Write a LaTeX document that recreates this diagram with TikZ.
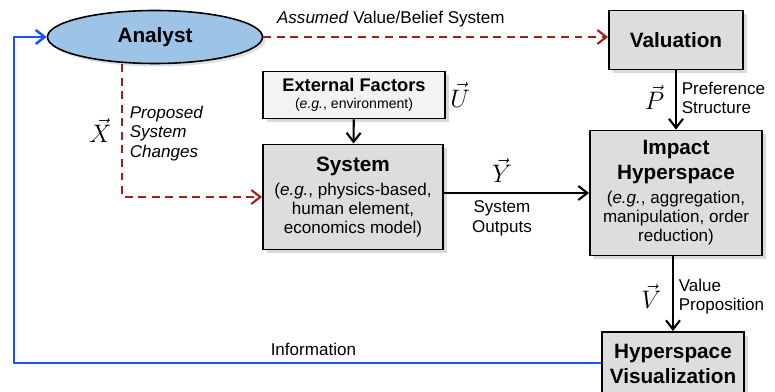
\documentclass[tikz,border=0pt]{standalone}
\usepackage{fontspec}
\setmainfont{Liberation Sans}
\usepackage{amsmath}
\usetikzlibrary{shapes.geometric, positioning, arrows.meta, shadows}
\definecolor{analystblue}{RGB}{157,195,230}
\definecolor{boxgray}{RGB}{221,221,221}
\definecolor{extgray}{RGB}{243,243,243}
\definecolor{assumered}{RGB}{163,33,20}
\definecolor{infoblue}{RGB}{28,82,255}
\newcommand\hd[1]{{\fontsize{11.8}{14}\selectfont\bfseries #1}}
\tikzset{block/.style={rectangle, draw=black, line width=1.1pt, fill=boxgray, align=center, inner sep=2pt,
                       font=\fontsize{9.7}{11}\selectfont,
                       drop shadow={shadow xshift=0.7mm, shadow yshift=-0.7mm, opacity=0.3}},
         flow/.style={-{Straight Barb[length=1.8mm,width=2.8mm]}, line width=1.2pt},
         assumed/.style={flow, draw=assumered, dash pattern=on 4.5pt off 3.2pt},
         lbl/.style={font=\fontsize{9.7}{11}\selectfont, inner sep=1pt},
         vecl/.style={font=\fontsize{15}{15}\selectfont, inner sep=1pt}}

\begin{document}
\begin{tikzpicture}[x=0.2mm, y=-0.2mm]
                 \useasboundingbox (0,0) rectangle (775,392);

                 % blocks
                 \node[ellipse, draw=black, line width=0.9pt, fill=analystblue, minimum width=43mm, minimum height=10.6mm,
                       drop shadow={shadow xshift=0.6mm, shadow yshift=-0.6mm, opacity=0.25}] (analyst) at (155,37) {\hd{Analyst}};
                 \node[block, minimum width=26.8mm, minimum height=11.8mm] (valuation) at (676,40) {\hd{Valuation}};
                 \node[block, fill=extgray, line width=0.9pt, minimum width=36.4mm, minimum height=9.4mm] (external) at (354,95)
                       {{\fontsize{10.4}{12}\selectfont\bfseries External Factors}\\[-1pt]{\fontsize{8}{9}\selectfont(\textit{e.g.}, environment)}};
                 \node[block, minimum width=36mm, minimum height=21mm] (system) at (353,197)
                       {\hd{System}\\[2.5pt](\textit{e.g.}, physics-based,\\human element,\\economics model)};
                 \node[block, minimum width=34.4mm, minimum height=25mm] (impact) at (676,193)
                       {\hd{Impact}\\[3pt]\hd{Hyperspace}\\[2.5pt](\textit{e.g.}, aggregation,\\manipulation, order\\reduction)};
                 \node[block, minimum width=28.4mm, minimum height=12.8mm] (hypviz) at (673,364)
                       {\hd{Hyperspace}\\[3pt]\hd{Visualization}};
                 \coordinate (infocorner) at (14,363);

                 % connectors
                 \draw[assumed] (analyst) -- (analyst -| valuation.west)
                       node[lbl, pos=0.37, above=1.5mm] {\textit{Assumed} Value/Belief System};
                 \draw[assumed] ([xshift=-6.6mm]analyst.south) |- (system.west)
                       node[lbl, pos=0.26, right=1mm, align=left] {\textit{Proposed}\\\textit{System}\\\textit{Changes}}
                       node[vecl, pos=0.25, left=1.5mm] {$\vec{X}$};
                 \draw[flow] (external) -- (system);
                 \node[vecl, right=0.5mm of external] (uvec) {$\vec{U}$};
                 \draw[flow] (impact.west -| system.east) -- (impact.west)
                       node[vecl, pos=0.4, above=1.5mm] {$\vec{Y}$}
                       node[lbl, pos=0.4, below=1mm, align=center] {System\\Outputs};
                 \draw[flow] (valuation) -- (impact)
                       node[vecl, pos=0.46, left=1.8mm] {$\vec{P}$}
                       node[lbl, pos=0.46, right=0.6mm, align=left] {Preference\\Structure};
                 \draw[flow] (impact.south -| hypviz.north) -- (hypviz.north)
                       node[vecl, pos=0.54, left=1.8mm] {$\vec{V}$}
                       node[lbl, pos=0.54, right=0.6mm, align=left] {Value\\Proposition};
                 \draw[flow, draw=infoblue, line width=1.4pt] (hypviz.west |- infocorner)
                       -- node[lbl, pos=0.49, above=0.8mm] {Information} (infocorner) |- (analyst.west);
\end{tikzpicture}
\end{document}
